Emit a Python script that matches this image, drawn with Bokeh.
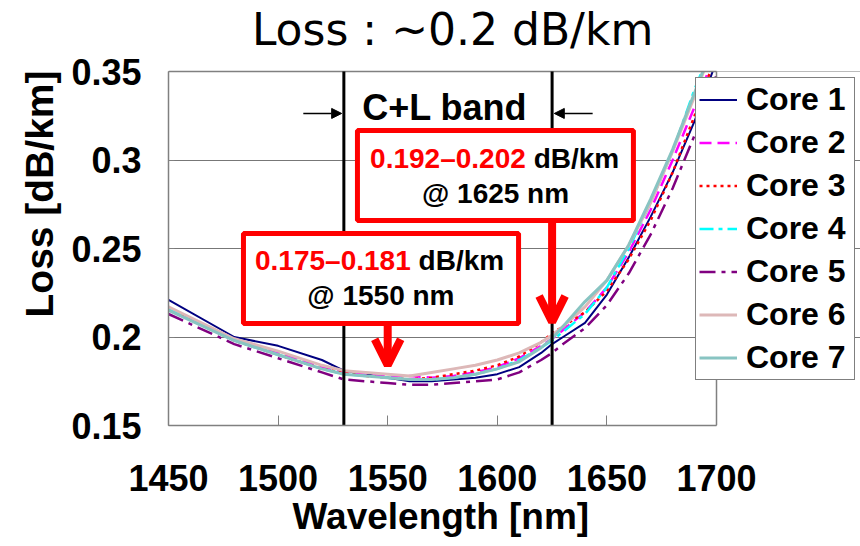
import math
from bokeh.plotting import figure
from bokeh.models import (Range1d, FixedTicker, CustomJSTickFormatter, Label, Title,
                          Arrow, OpenHead, NormalHead, Legend, LegendItem)
from bokeh.embed import file_html
from bokeh.resources import INLINE

# ---------------- data ----------------
wavelength = [1450, 1480, 1500, 1520, 1530, 1540, 1550, 1560, 1570, 1580, 1590, 1600,
              1610, 1620, 1625, 1630, 1640, 1650, 1660, 1670, 1680, 1690, 1700]
core1 = [0.221, 0.200, 0.195, 0.187, 0.181, 0.179, 0.177, 0.175, 0.175, 0.176, 0.177, 0.179,
         0.183, 0.191, 0.196, 0.200, 0.208, 0.224, 0.245, 0.268, 0.293, 0.322, 0.356]
core2 = [0.216, 0.199, 0.191, 0.183, 0.180, 0.179, 0.178, 0.178, 0.177, 0.178, 0.180, 0.183,
         0.188, 0.195, 0.199, 0.204, 0.214, 0.228, 0.248, 0.272, 0.300, 0.330, 0.362]
core3 = [0.216, 0.198, 0.190, 0.182, 0.180, 0.178, 0.177, 0.176, 0.177, 0.179, 0.181, 0.184,
         0.189, 0.197, 0.202, 0.206, 0.214, 0.226, 0.244, 0.266, 0.293, 0.325, 0.360]
core4 = [0.216, 0.198, 0.190, 0.182, 0.179, 0.178, 0.177, 0.176, 0.176, 0.177, 0.179, 0.182,
         0.187, 0.194, 0.198, 0.203, 0.213, 0.228, 0.250, 0.276, 0.305, 0.340, 0.370]
core5 = [0.213, 0.196, 0.188, 0.180, 0.176, 0.175, 0.174, 0.173, 0.173, 0.174, 0.175, 0.176,
         0.180, 0.187, 0.191, 0.196, 0.205, 0.218, 0.236, 0.258, 0.284, 0.314, 0.348]
core6 = [0.217, 0.199, 0.192, 0.184, 0.181, 0.180, 0.179, 0.178, 0.180, 0.182, 0.184, 0.187,
         0.191, 0.197, 0.201, 0.206, 0.217, 0.232, 0.252, 0.276, 0.305, 0.336, 0.370]
core7 = [0.215, 0.198, 0.190, 0.182, 0.179, 0.178, 0.177, 0.176, 0.176, 0.177, 0.179, 0.182,
         0.186, 0.194, 0.199, 0.206, 0.220, 0.232, 0.252, 0.278, 0.306, 0.338, 0.370]
core_names = ["Core 1", "Core 2", "Core 3", "Core 4", "Core 5", "Core 6", "Core 7"]

x_ticks = [1450, 1500, 1550, 1600, 1650, 1700]
y_ticks = [0.15, 0.2, 0.25, 0.3, 0.35]
y_tick_labels = ["0.15", "0.2", "0.25", "0.3", "0.35"]
band_edges = [1530, 1625]
marked_wavelengths = [1550, 1625]

X_MIN, X_MAX = 1450, 1700
Y_MIN, Y_MAX = 0.15, 0.35

# ---------------- styles ----------------
colors = ["#000080", "#FF00FF", "#FF0000", "#00FFFF", "#800080", "#DDB8B8", "#88C4C2"]
dashes = ["solid", "12 6", "3 4", "14 5 4 5", "16 6 4 6", "solid", "solid"]
widths = [2, 2.5, 2.5, 2.5, 2.5, 3, 3]

BOLD = "Liberation Sans"
GREY = "#808080"

# Plot area: 168..716 px (1450..1700 nm), 71..425 px (0.35..0.15).
# The frame is extended to the right and top canvas edges so that the legend and the
# chart title (which lie partly outside the plot area) are not clipped.
px_per_nm = 548 / (X_MAX - X_MIN)
px_per_unit = 354 / (Y_MAX - Y_MIN)
x_view_max = X_MAX + (860 - 716) / px_per_nm
y_view_max = Y_MAX + 71 / px_per_unit

p = figure(width=860, height=546, output_backend="svg", toolbar_location=None,
           x_range=Range1d(X_MIN, x_view_max), y_range=Range1d(Y_MIN, y_view_max),
           min_border_left=168, min_border_right=0, min_border_top=0, min_border_bottom=121)
p.background_fill_color = "white"
p.border_fill_color = "white"
p.outline_line_color = None

# axes
p.xaxis.ticker = FixedTicker(ticks=x_ticks)
p.xaxis.bounds = (X_MIN, X_MAX)
p.yaxis.ticker = FixedTicker(ticks=y_ticks)
p.yaxis.bounds = (Y_MIN, Y_MAX)
p.yaxis.formatter = CustomJSTickFormatter(args=dict(tvals=y_ticks, tlabels=y_tick_labels), code="""
let best = 0; let d = 1e9;
for (let i = 0; i < tvals.length; i++) { const e = Math.abs(tvals[i] - tick); if (e < d) { d = e; best = i; } }
return tlabels[best];
""")
for ax in (p.xaxis[0], p.yaxis[0]):
    ax.axis_line_color = GREY
    ax.axis_line_width = 1.5
    ax.major_tick_line_color = GREY
    ax.major_tick_out = 0
    ax.minor_tick_line_color = None
    ax.major_label_text_font = BOLD
    ax.major_label_text_font_style = "bold"
    ax.major_label_text_font_size = "36px"
    ax.major_label_text_color = "black"
p.xaxis.major_tick_in = 10
p.yaxis.major_tick_in = 6
p.xaxis.major_label_standoff = 39
p.yaxis.major_label_standoff = 27

p.add_layout(Title(text="Wavelength [nm]", align="left", offset=124, standoff=0,
                   text_font=BOLD, text_font_style="bold", text_font_size="37px",
                   text_color="black"), "below")
p.add_layout(Title(text="Loss  [dB/km]", align="left", offset=108, standoff=16,
                   text_font=BOLD, text_font_style="bold", text_font_size="39px",
                   text_color="black"), "left")

p.xgrid.grid_line_color = None
p.ygrid.grid_line_color = "#777777"
p.ygrid.grid_line_width = 1
p.ygrid.bounds = (Y_MIN, Y_MAX)

# curves
cores = [core1, core2, core3, core4, core5, core6, core7]
items = []
for name, ys, c, d, w in zip(core_names, cores, colors, dashes, widths):
    r = p.line(wavelength, ys, line_color=c, line_dash=d, line_width=w)
    items.append(LegendItem(label=name, renderers=[r]))

# white mask above the plot area (curves are cut at the top of the value axis)
p.quad(left=[X_MIN], right=[x_view_max], bottom=[Y_MAX], top=[y_view_max],
       fill_color="white", line_color=None)

# top and right edges of the plot area
p.segment(x0=[X_MIN, X_MAX], y0=[Y_MAX, Y_MIN], x1=[X_MAX, X_MAX], y1=[Y_MAX, Y_MAX],
          line_color=GREY, line_width=1.5)

# band edges (C+L band)
p.segment(x0=band_edges, y0=[Y_MIN] * 2, x1=band_edges, y1=[Y_MAX] * 2,
          line_color="black", line_width=3)

legend = Legend(items=items, location=(527, 45))
legend.label_text_font = BOLD
legend.label_text_font_style = "bold"
legend.label_text_font_size = "32px"
legend.label_text_color = "black"
legend.glyph_width = 38
legend.glyph_height = 37
legend.label_height = 37
legend.label_width = 105
legend.spacing = 6
legend.padding = 3
legend.margin = 0
legend.label_standoff = 9
legend.border_line_color = "black"
legend.border_line_width = 1
legend.background_fill_color = "white"
legend.background_fill_alpha = 1
p.add_layout(legend, "center")

# chart title
p.add_layout(Label(x=1579.6, y=0.3740, text="Loss : ~0.2 dB/km", text_font="DejaVu Sans",
                   text_font_size="44px", text_align="center", text_baseline="middle",
                   text_color="black"))

# C+L band label and arrows
p.add_layout(Label(x=1576, y=0.3297, text="C+L band", text_font=BOLD, text_font_style="bold",
                   text_font_size="36px", text_align="center", text_baseline="middle",
                   text_color="black"))
p.add_layout(Arrow(x_start=1511.5, y_start=0.3263, x_end=1529, y_end=0.3263,
                   line_color="black", line_width=1.5,
                   end=NormalHead(size=10, fill_color="black", line_color="black")))
p.add_layout(Arrow(x_start=1643.5, y_start=0.3263, x_end=1626, y_end=0.3263,
                   line_color="black", line_width=1.5,
                   end=NormalHead(size=10, fill_color="black", line_color="black")))

# annotation boxes
p.quad(left=[1484.2], right=[1609.7], bottom=[0.2076], top=[0.2585],
       fill_color="white", line_color="#FF0000", line_width=5)
p.quad(left=[1536.2], right=[1662.1], bottom=[0.2658], top=[0.3167],
       fill_color="white", line_color="#FF0000", line_width=5)

def two_color(xsplit, y, red, black):
    p.add_layout(Label(x=xsplit, y=y, text=red, text_color="#FF0000", text_font=BOLD,
                       text_font_style="bold", text_font_size="28px",
                       text_align="right", text_baseline="middle"))
    p.add_layout(Label(x=xsplit + 3.6, y=y, text=black, text_color="black", text_font=BOLD,
                       text_font_style="bold", text_font_size="28px",
                       text_align="left", text_baseline="middle"))

two_color(1560.5, 0.2434, "0.175\u20130.181", "dB/km")
p.add_layout(Label(x=1546.9, y=0.2234, text="@ 1550 nm", text_font=BOLD, text_font_style="bold",
                   text_font_size="28px", text_align="center", text_baseline="middle",
                   text_color="black"))
two_color(1613.0, 0.3008, "0.192\u20130.202", "dB/km")
p.add_layout(Label(x=1599.2, y=0.2811, text="@ 1625 nm", text_font=BOLD, text_font_style="bold",
                   text_font_size="28px", text_align="center", text_baseline="middle",
                   text_color="black"))

# red arrows
p.add_layout(Arrow(x_start=marked_wavelengths[0], y_start=0.2076, x_end=marked_wavelengths[0], y_end=0.1840,
                   line_color="#FF0000", line_width=8,
                   end=OpenHead(size=26, line_color="#FF0000", line_width=8)))
p.add_layout(Arrow(x_start=marked_wavelengths[1], y_start=0.2658, x_end=marked_wavelengths[1], y_end=0.2085,
                   line_color="#FF0000", line_width=8,
                   end=OpenHead(size=26, line_color="#FF0000", line_width=8)))

open("out.html", "w").write(file_html(p, INLINE))
